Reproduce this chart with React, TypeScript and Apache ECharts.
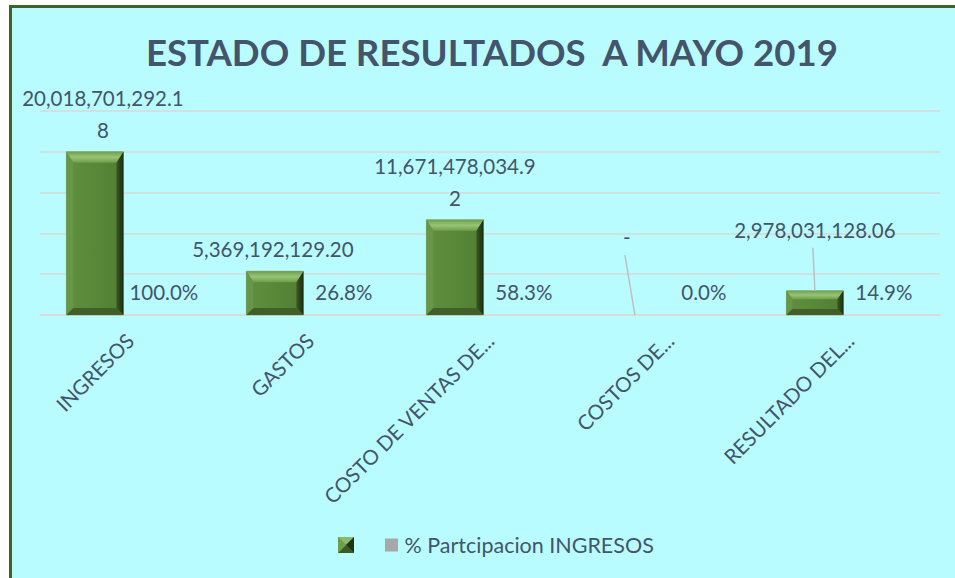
import React, { useEffect, useRef } from "react";
import * as echarts from "echarts";

const CATEGORIES = ["INGRESOS", "GASTOS", "COSTO DE VENTAS DE...", "COSTOS DE...", "RESULTADO DEL..."];
const VALUES = [20018701292.18, 5369192129.2, 11671478034.92, 0, 2978031128.06];
const PERCENTS = [100.0, 26.8, 58.3, 0.0, 14.9];
const Y_MAX = 25000000000;
const Y_INTERVAL = 5000000000;
const TITLE = "ESTADO DE RESULTADOS  A MAYO 2019";
const LEGEND_NAMES = [" ", "% Partcipacion INGRESOS"];
// label nudges (dx, dy) in px, as placed in the original
const LABEL_NUDGE: number[][] = [[8, 0], [-2, 0], [0, 0], [-8, -56], [0, -39]];

const TEXT = "#44546A";
const FONT = "Lato";

function fmt(v: number): string {
  if (v === 0) return "-";
  const fixed = v.toFixed(2);
  const [int, dec] = fixed.split(".");
  const withCommas = int.replace(/\B(?=(\d{3})+(?!\d))/g, ",");
  return withCommas + "." + dec;
}

const iconSvg =
  "<svg xmlns='http://www.w3.org/2000/svg' width='16' height='16'>" +
  "<rect width='16' height='16' fill='#5B8A3B'/>" +
  "<polygon points='0,0 16,0 8,8' fill='#8DBA68'/>" +
  "<polygon points='16,0 16,16 8,8' fill='#1F3412'/>" +
  "<polygon points='0,16 16,16 8,8' fill='#3B5C25'/>" +
  "<polygon points='0,0 0,16 8,8' fill='#6E9E4C'/></svg>";
const ICON = "image://data:image/svg+xml;charset=utf-8," + encodeURIComponent(iconSvg);
const graySvg =
  "<svg xmlns='http://www.w3.org/2000/svg' width='16' height='16'>" +
  "<rect x='1.5' y='1.5' width='13' height='13' fill='#A8A8A8'/></svg>";
const GRAY_ICON = "image://data:image/svg+xml;charset=utf-8," + encodeURIComponent(graySvg);

export default function App() {
  const ref = useRef<HTMLDivElement>(null);

  useEffect(() => {
    if (!ref.current) return;
    const chart = echarts.init(ref.current, undefined, { renderer: "svg" });

    const valueRender = (params: any, api: any) => {
      const idx = api.value(0) as number;
      const v = api.value(1) as number;
      const base = api.coord([idx, 0]);
      const top = api.coord([idx, v]);
      const band = api.size([1, 0])[0];
      const w = band * 0.317;
      const cx = base[0] - band * 0.195;
      const x0 = cx - w / 2;
      const x1 = cx + w / 2;
      const y0 = top[1];
      const y1 = base[1];
      const h = y1 - y0;
      const children: any[] = [];
      if (h > 0.5) {
        const s = Math.min(7, h * 0.25);
        const t = Math.min(11, h * 0.35);
        children.push({
          type: "rect",
          shape: { x: x0, y: y0, width: w, height: h },
          style: {
            fill: new echarts.graphic.LinearGradient(0, 0, 1, 0, [
              { offset: 0, color: "#5F903E" },
              { offset: 1, color: "#527F33" },
            ]),
            stroke: "#86A86E",
            lineWidth: 0.6,
          },
        });
        children.push({
          type: "polygon",
          shape: { points: [[x0, y0], [x1, y0], [x1 - s, y0 + t], [x0 + s, y0 + t]] },
          style: {
            fill: new echarts.graphic.LinearGradient(0, 0, 0, 1, [
              { offset: 0, color: "#6E9E4B" },
              { offset: 0.5, color: "#97C576" },
              { offset: 1, color: "#6E9E4B" },
            ]),
          },
        });
        children.push({
          type: "polygon",
          shape: { points: [[x0, y0], [x0 + s, y0 + t], [x0 + s, y1 - s], [x0, y1]] },
          style: { fill: "#669646" },
        });
        children.push({
          type: "polygon",
          shape: { points: [[x1, y0], [x1 - s, y0 + t], [x1 - s, y1 - s], [x1, y1]] },
          style: {
            fill: new echarts.graphic.LinearGradient(0, 0, 1, 0, [
              { offset: 0, color: "#3A5A25" },
              { offset: 1, color: "#1A2C10" },
            ]),
          },
        });
        children.push({
          type: "polygon",
          shape: { points: [[x0, y1], [x1, y1], [x1 - s, y1 - s], [x0 + s, y1 - s]] },
          style: { fill: "#3F6029" },
        });
      }
      const nudge = LABEL_NUDGE[idx] || [0, 0];
      const lx = cx + nudge[0];
      const lcy = y0 - 22 + nudge[1];
      children.push({
        type: "text",
        x: lx,
        y: lcy + 16,
        style: {
          text: fmt(v),
          fill: TEXT,
          fontSize: 20.5,
          fontFamily: FONT,
          align: "center",
          verticalAlign: "bottom",
          width: 172,
          overflow: "breakAll",
          lineHeight: 32,
        },
      });
      if (nudge[1] < -20) {
        children.push({
          type: "line",
          shape: { x1: lx - 2, y1: lcy + 18, x2: cx, y2: y0 },
          style: { stroke: "#BFBFBF", lineWidth: 1.5 },
        });
      }
      return { type: "group", children };
    };

    const pctRender = (params: any, api: any) => {
      const idx = api.value(0) as number;
      const p = api.value(1) as number;
      const base = api.coord([idx, 0]);
      const band = api.size([1, 0])[0];
      return {
        type: "text",
        x: base[0] + band * 0.188,
        y: base[1] - 23,
        style: {
          text: p.toFixed(1) + "%",
          fill: TEXT,
          fontSize: 20.5,
          fontFamily: FONT,
          align: "center",
          verticalAlign: "middle",
        },
      };
    };

    chart.setOption({
      animation: false,
      backgroundColor: "transparent",
      title: {
        text: TITLE,
        left: 141,
        top: 28,
        textStyle: { color: TEXT, fontSize: 36.6, fontWeight: "bold", fontFamily: FONT },
      },
      legend: {
        left: 333,
        top: 529,
        itemWidth: 16,
        itemHeight: 16,
        itemGap: 19,
        textStyle: { color: TEXT, fontSize: 21.5, fontFamily: FONT },
        data: [
          { name: LEGEND_NAMES[0], icon: ICON },
          { name: LEGEND_NAMES[1], icon: GRAY_ICON },
        ],
      },
      grid: { left: 40, right: 15, top: 111, bottom: 263, containLabel: false },
      xAxis: {
        type: "category",
        data: CATEGORIES,
        axisTick: { show: false },
        axisLine: { lineStyle: { color: "#D9D9D9", width: 1.5 } },
        axisLabel: {
          rotate: 45,
          interval: 0,
          margin: 22,
          color: TEXT,
          fontSize: 20.5,
          fontFamily: FONT,
        },
      },
      yAxis: {
        type: "value",
        min: 0,
        max: Y_MAX,
        interval: Y_INTERVAL,
        axisLabel: { show: false },
        axisLine: { show: false },
        axisTick: { show: false },
        splitLine: { lineStyle: { color: "#D9D9D9", width: 1.5 } },
      },
      series: [
        {
          name: LEGEND_NAMES[0],
          type: "custom",
          clip: false,
          itemStyle: { color: "#5B8A3B" },
          encode: { x: 0, y: 1 },
          data: VALUES.map((v, i) => [i, v]),
          renderItem: valueRender,
          z: 3,
        },
        {
          name: LEGEND_NAMES[1],
          type: "custom",
          clip: false,
          itemStyle: { color: "#A8A8A8" },
          encode: { x: 0 },
          data: PERCENTS.map((p, i) => [i, p]),
          renderItem: pctRender,
          z: 3,
        },
      ],
    });

    return () => chart.dispose();
  }, []);

  return (
    <div style={{ position: "absolute", left: 0, top: 0, width: 955, height: 578, overflow: "hidden", background: "#ffffff" }}>
      <div
        style={{
          position: "absolute",
          left: 9,
          top: 5,
          width: 1000,
          height: 1000,
          borderLeft: "3px solid #3F6526",
          borderTop: "3px solid #3F6526",
          background: "#B9FCFF",
        }}
      />
      <div ref={ref} style={{ position: "absolute", left: 0, top: 0, width: 955, height: 578 }} />
    </div>
  );
}
